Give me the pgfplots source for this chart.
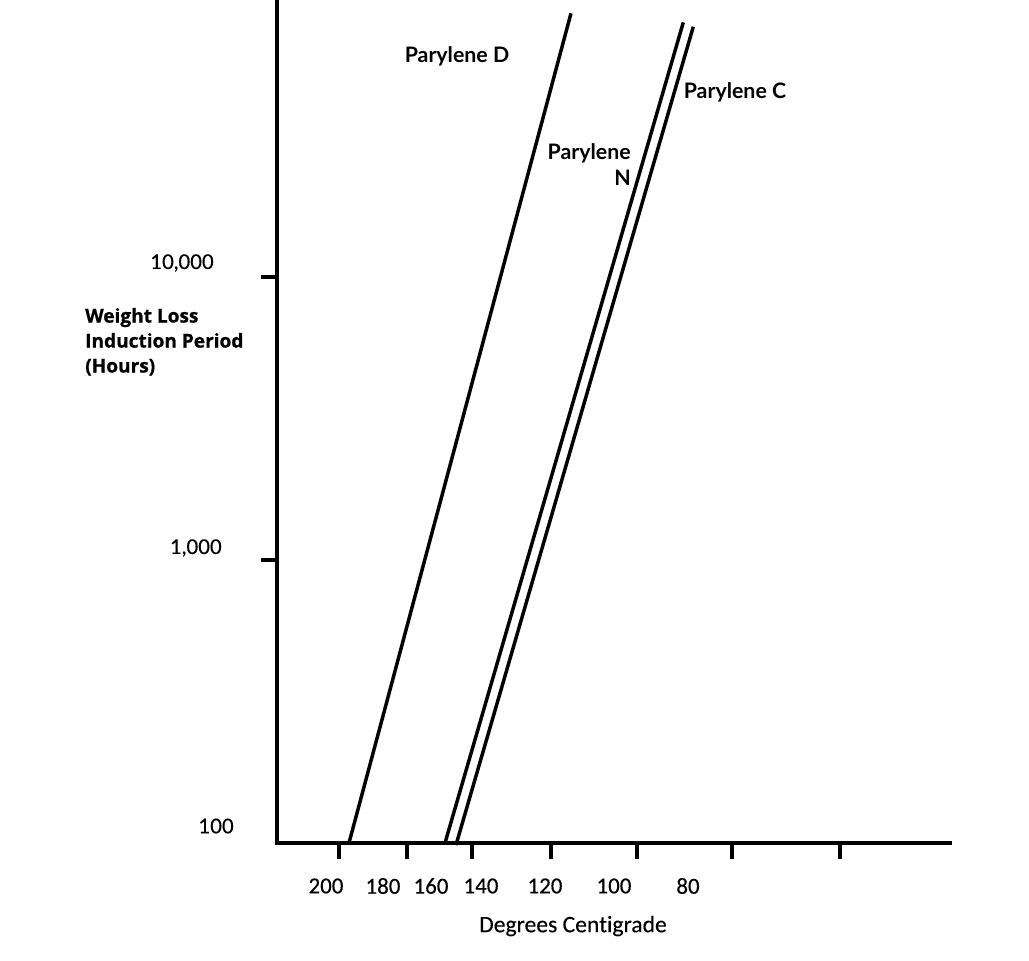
\documentclass[border=0pt]{standalone}
\usepackage{fontspec}
\setmainfont{Lato}
\newfontfamily\latoreg{Lato}[FakeBold=0.3]
\newfontfamily\carlito{Carlito}[Ligatures=NoCommon, FakeBold=0.3]
\newfontfamily\opensans{Open Sans}[Ligatures=NoCommon, BoldFeatures={FakeBold=0.8}]
\usepackage{pgfplots}
\pgfplotsset{compat=1.18}
\begin{document}
\begin{tikzpicture}
\path[use as bounding box] (0pt,0pt) rectangle (771.75pt,720.75pt);
\begin{axis}[
  at={(207.75pt,88.5pt)}, anchor=south west,
  scale only axis, width=504.75pt, height=632.25pt,
  xmin=277, xmax=950, ymin=100, ymax=95250, ymode=log,
  axis x line=bottom, axis y line=left,
  axis line style={-, line width=2.8pt, line cap=rect},
  clip=false,
  tick align=outside,
  major tick length=12pt,
  major tick style={black, line width=2.4pt},
  yminorticks=false, xminorticks=false,
  xtick={339,407,472,551,637,732,840},
  xticklabels={},
  extra x ticks={326,383,431,481,545,614,688},
  extra x tick labels={200,180,160,140,120,100,80},
  extra x tick style={major tick length=0pt},
  xticklabel style={anchor=center, inner sep=0pt, yshift=-32.25pt, font=\carlito\fontsize{17.2}{20}\selectfont},
  ytick={1000,10000},
  yticklabels={},
  extra y ticks={114.8,1102.6,11207},
  extra y tick labels={{100},{1,000\rule{9pt}{0pt}},{10,000\rule{15pt}{0pt}}},
  extra y tick style={major tick length=0pt},
  yticklabel style={anchor=east, inner sep=0pt, xshift=-32.25pt, font=\latoreg\fontsize{15.2}{17}\selectfont},
  xlabel={Degrees Centigrade},
  xlabel style={at={(axis description cs:0.4398,-0.0985)}, anchor=center, inner sep=0pt, font=\carlito\fontsize{17.7}{20}\selectfont},
  ylabel={Weight Loss\\Induction Period\\(Hours)},
  ylabel style={rotate=-90, at={(axis description cs:-0.2853,0.5945)}, anchor=west, align=left, inner sep=0pt, font=\opensans\bfseries\fontsize{14.3}{18.75}\selectfont},
]
\addplot[black, line width=2.6pt] coordinates {(349,100) (571,85480)};
\addplot[black, line width=2.6pt] coordinates {(445,100) (683.3,79430)};
\addplot[black, line width=2.6pt] coordinates {(456,98.4) (693.3,76640)};
\node[font=\bfseries\fontsize{16}{17}\selectfont, inner sep=0pt] at (axis cs:457,60390) {Parylene D};
\node[font=\bfseries\fontsize{16}{17}\selectfont, inner sep=0pt] at (axis cs:735,45050) {Parylene C};
\node[font=\bfseries\fontsize{16}{19.5}\selectfont, inner sep=0pt, align=right, anchor=east] at (axis cs:631,24870) {Parylene\\N};
\end{axis}
\end{tikzpicture}
\end{document}
